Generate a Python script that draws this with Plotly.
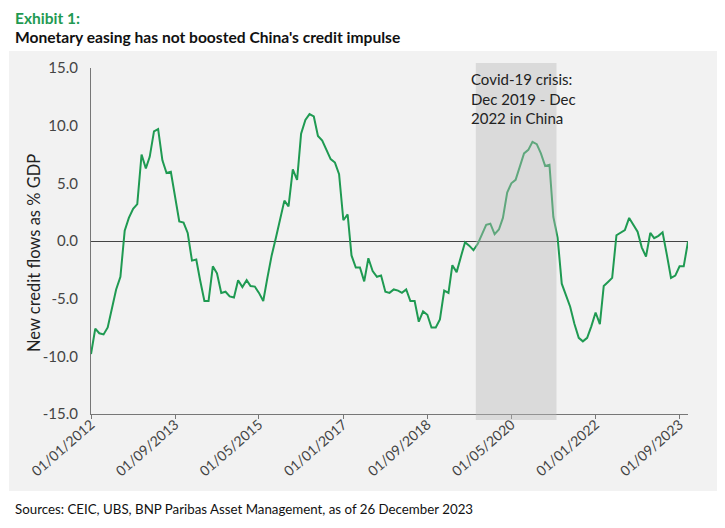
import plotly.graph_objects as go
import pandas as pd

# ---- data (monthly, Jan 2012 - Nov 2023) ----
start_month = "2012-01-01"
credit_impulse = [
    -9.8, -7.6, -8.0, -8.1, -7.5, -5.8, -4.2, -3.1, 0.9, 2.0, 2.8, 3.2,      # 2012
    7.5, 6.3, 7.3, 9.5, 9.7, 7.0, 5.9, 6.0, 3.9, 1.7, 1.6, 0.7,             # 2013
    -1.7, -1.6, -3.4, -5.2, -5.2, -2.2, -2.8, -4.5, -4.4, -4.8, -4.9, -3.4, # 2014
    -4.0, -3.4, -3.9, -3.95, -4.5, -5.2, -3.2, -1.25, 0.3, 2.0, 3.5, 3.0,   # 2015
    6.2, 5.3, 9.3, 10.5, 11.0, 10.8, 9.1, 8.7, 7.9, 7.1, 6.8, 5.8,          # 2016
    1.8, 2.3, -1.25, -2.3, -2.3, -3.5, -1.5, -2.6, -3.1, -3.0, -4.4, -4.5,  # 2017
    -4.2, -4.3, -4.5, -4.2, -5.2, -5.2, -7.0, -6.1, -6.4, -7.5, -7.5, -6.8, # 2018
    -4.3, -4.5, -2.1, -2.7, -1.4, -0.1, -0.4, -0.8, -0.25, 0.5, 1.4, 1.5,   # 2019
    0.6, 1.0, 2.0, 4.2, 5.0, 5.3, 6.4, 7.6, 7.9, 8.6, 8.4, 7.6,             # 2020
    6.5, 6.6, 2.1, 0.3, -3.7, -4.7, -5.7, -7.2, -8.4, -8.7, -8.4, -7.4,     # 2021
    -6.2, -7.2, -3.9, -3.55, -3.2, 0.5, 0.75, 0.95, 2.0, 1.45, 0.8, -0.55,  # 2022
    -1.35, 0.7, 0.25, 0.45, 0.75, -1.2, -3.2, -3.0, -2.2, -2.2, -0.05,      # 2023
]
dates = pd.date_range(start_month, periods=len(credit_impulse), freq="MS")

tick_dates = ["2012-01-01", "2013-09-01", "2015-05-01", "2017-01-01",
              "2018-09-01", "2020-05-01", "2022-01-01", "2023-09-01"]
tick_labels = ["01/01/2012", "01/09/2013", "01/05/2015", "01/01/2017",
               "01/09/2018", "01/05/2020", "01/01/2022", "01/09/2023"]
y_ticks = [-15, -10, -5, 0, 5, 10, 15]
y_tick_labels = ["-15.0", "-10.0", "-5.0", "0.0", "5.0", "10.0", "15.0"]

covid_start = "2019-08-18"
covid_end = "2021-03-24"

GREEN = "#1f9a52"
FONT = "Lato, sans-serif"

fig = go.Figure()
fig.add_trace(go.Scatter(
    x=dates, y=credit_impulse, mode="lines",
    line=dict(color=GREEN, width=2), showlegend=False, hoverinfo="skip",
))

# page has an 8px body margin: figure coords = page coords - 8
OFF = 8
W, H = 709, 512
L, R, T, B = 83, 29, 60, 106
pw, ph = W - L - R, H - T - B
def px(x): return (x - OFF - L) / pw
def py(y): return (H - B - (y - OFF)) / ph

shapes = [
    # light grey panel
    dict(type="rect", xref="paper", yref="paper", x0=px(9), x1=px(720),
         y0=py(491), y1=py(51), fillcolor="#f2f2f2", line=dict(width=0), layer="below"),
    # covid shading
    dict(type="rect", xref="x", yref="paper", x0=covid_start, x1=covid_end,
         y0=py(420), y1=py(63), fillcolor="rgba(185,185,185,0.42)",
         line=dict(width=0), layer="above"),
]

annotations = [
    dict(text="<b>Exhibit 1:</b>", xref="paper", yref="paper", x=px(13), y=py(18),
         xanchor="left", yanchor="middle", showarrow=False,
         font=dict(family=FONT, size=15.5, color=GREEN)),
    dict(text="<b>Monetary easing has not boosted China's credit impulse</b>",
         xref="paper", yref="paper", x=px(13), y=py(37),
         xanchor="left", yanchor="middle", showarrow=False,
         font=dict(family=FONT, size=15.6, color="#111111")),
    dict(text="Sources: CEIC, UBS, BNP Paribas Asset Management, as of 26 December 2023",
         xref="paper", yref="paper", x=px(13), y=py(509),
         xanchor="left", yanchor="middle", showarrow=False,
         font=dict(family=FONT, size=13.3, color="#111111")),
    dict(text="Covid-19 crisis:<br>Dec 2019 - Dec<br>2022 in China",
         xref="paper", yref="paper", x=px(469), y=py(68), align="left",
         xanchor="left", yanchor="top", showarrow=False,
         font=dict(family=FONT, size=15, color="#222222")),
    dict(text="New credit flows as % GDP", xref="paper", yref="paper",
         x=px(34), y=py(253), textangle=-90, xanchor="center", yanchor="middle",
         showarrow=False, font=dict(family=FONT, size=16.5, color="#222222")),
]

fig.update_layout(
    width=W, height=H,
    margin=dict(l=L, r=R, t=T, b=B, pad=0),
    paper_bgcolor="white", plot_bgcolor="rgba(0,0,0,0)",
    font=dict(family=FONT, size=14, color="#333333"),
    shapes=shapes, annotations=annotations, showlegend=False,
    xaxis=dict(
        type="date", range=["2012-01-01", dates[-1]],
        tickvals=tick_dates, ticktext=tick_labels, tickangle=-41,
        showgrid=False, zeroline=False,
        showline=True, linecolor="#777777", linewidth=1,
        ticks="outside", ticklen=4, tickcolor="#777777",
        ticklabelstandoff=-8,
        tickfont=dict(family=FONT, size=14, color="#444444"),
    ),
    yaxis=dict(
        range=[-15, 15], tickvals=y_ticks, ticktext=y_tick_labels,
        showgrid=False, zeroline=True, zerolinecolor="#444444", zerolinewidth=1,
        showline=True, linecolor="#777777", linewidth=1, ticks="",
        ticklabelstandoff=9,
        tickfont=dict(family=FONT, size=15, color="#444444"),
    ),
)

fig.write_html("out.html")
